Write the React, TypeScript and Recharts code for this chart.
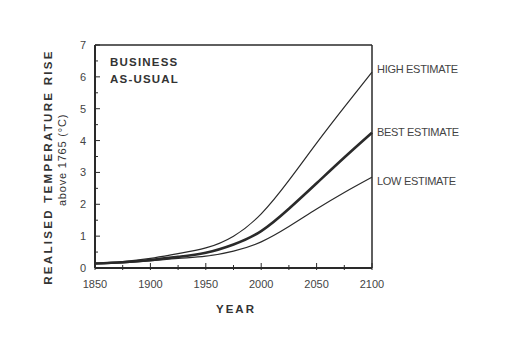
import React from 'react';
import { LineChart, Line, XAxis, YAxis, ReferenceLine } from 'recharts';

const years = [1850, 1875, 1900, 1925, 1950, 1975, 2000, 2025, 2050, 2075, 2100];
const highEstimate = [0.15, 0.2, 0.3, 0.45, 0.63, 1.0, 1.7, 2.75, 3.92, 5.05, 6.15];
const bestEstimate = [0.14, 0.18, 0.25, 0.35, 0.48, 0.74, 1.16, 1.86, 2.66, 3.47, 4.25];
const lowEstimate = [0.13, 0.16, 0.22, 0.3, 0.37, 0.53, 0.82, 1.3, 1.85, 2.37, 2.85];

const xTicks = [1850, 1875, 1900, 1925, 1950, 1975, 2000, 2025, 2050, 2075, 2100];
const yTicks = [0, 0.5, 1, 1.5, 2, 2.5, 3, 3.5, 4, 4.5, 5, 5.5, 6, 6.5, 7];
const seriesLabels = { high: 'HIGH ESTIMATE', best: 'BEST ESTIMATE', low: 'LOW ESTIMATE' };

const data = years.map((y, i) => ({ year: y, high: highEstimate[i], best: bestEstimate[i], low: lowEstimate[i] }));

const INK = '#2a2a2a';
const TXT = '#444';
const FONT = 'Arial, "Liberation Sans", Helvetica, sans-serif';

const LeftTick = (props: any) => {
  const { x, y, payload } = props;
  const v = payload.value;
  const major = Number.isInteger(v);
  const axisX = x + 6;
  return (
    <g>
      <line x1={axisX} x2={axisX + (major ? 5 : 3)} y1={y} y2={y} stroke={INK} strokeWidth={1} />
      {major && (
        <text x={x - 3} y={y} dy={4} textAnchor="end" fontSize={11} fill={TXT} fontFamily={FONT}>
          {v}
        </text>
      )}
    </g>
  );
};

const RightTick = (props: any) => {
  const { x, y, payload } = props;
  const v = payload.value;
  const major = Number.isInteger(v);
  const axisX = x - 6;
  return <line x1={axisX} x2={axisX - (major ? 5 : 3)} y1={y} y2={y} stroke={INK} strokeWidth={1} />;
};

const BottomTick = (props: any) => {
  const { x, y, payload } = props;
  const v = payload.value;
  const major = v % 50 === 0;
  const axisY = y - 6;
  return (
    <g>
      <line x1={x} x2={x} y1={axisY + 2} y2={axisY - (major ? 5 : 3)} stroke={INK} strokeWidth={1} />
      {major && (
        <text x={x} y={axisY + 20} textAnchor="middle" fontSize={11} fill={TXT} fontFamily={FONT}>
          {v}
        </text>
      )}
    </g>
  );
};

const endLabel = (key: 'high' | 'best' | 'low', dy: number) => (props: any) => {
  const { x, y, index } = props;
  if (index !== data.length - 1) return null;
  return (
    <text x={x + 5} y={y + dy} fontSize={11} fill={TXT} fontFamily={FONT} letterSpacing={-0.3}>
      {seriesLabels[key]}
    </text>
  );
};

export default function App() {
  return (
    <div style={{ position: 'absolute', left: 0, top: 0, width: 516, height: 351, background: '#fff' }}>
      <LineChart
        width={516}
        height={351}
        data={data}
        margin={{ top: 45, right: 114, left: 65, bottom: 53 }}
      >
        <XAxis
          dataKey="year"
          type="number"
          domain={[1850, 2100]}
          ticks={xTicks}
          tickSize={0}
          tickMargin={6}
          tickLine={false}
          tick={<BottomTick />}
          axisLine={{ stroke: INK, strokeWidth: 2 }}
          height={30}
          interval={0}
        />
        <YAxis
          yAxisId="l"
          orientation="left"
          domain={[0, 7]}
          ticks={yTicks}
          tickSize={0}
          tickMargin={6}
          tickLine={false}
          tick={<LeftTick />}
          axisLine={{ stroke: INK, strokeWidth: 2 }}
          width={30}
          interval={0}
        />
        <YAxis
          yAxisId="r"
          orientation="right"
          domain={[0, 7]}
          ticks={yTicks}
          tickSize={0}
          tickMargin={6}
          tickLine={false}
          tick={<RightTick />}
          axisLine={{ stroke: INK, strokeWidth: 1.5 }}
          width={30}
          interval={0}
        />
        <ReferenceLine yAxisId="l" y={7} stroke={INK} strokeWidth={1.5} />
        <Line
          yAxisId="l"
          type="natural"
          dataKey="high"
          stroke={INK}
          strokeWidth={1.2}
          dot={false}
          isAnimationActive={false}
          label={endLabel('high', 1)}
        />
        <Line
          yAxisId="l"
          type="natural"
          dataKey="best"
          stroke={INK}
          strokeWidth={2.6}
          dot={false}
          isAnimationActive={false}
          label={endLabel('best', 3)}
        />
        <Line
          yAxisId="l"
          type="natural"
          dataKey="low"
          stroke={INK}
          strokeWidth={1.2}
          dot={false}
          isAnimationActive={false}
          label={endLabel('low', 8)}
        />
      </LineChart>
      <svg
        width={516}
        height={351}
        style={{ position: 'absolute', left: 0, top: 0, pointerEvents: 'none' }}
      >
        <text x={110} y={66} fontSize={11.5} fontWeight="bold" fill="#333" fontFamily={FONT} letterSpacing={1.2}>
          BUSINESS
        </text>
        <text x={110} y={83} fontSize={11.5} fontWeight="bold" fill="#333" fontFamily={FONT} letterSpacing={1.2}>
          AS-USUAL
        </text>
        <text
          x={0}
          y={0}
          transform="translate(52,167) rotate(-90)"
          textAnchor="middle"
          fontSize={11.5}
          fontWeight="bold"
          fill="#333"
          fontFamily={FONT}
          letterSpacing={2.3}
        >
          REALISED  TEMPERATURE  RISE
        </text>
        <text
          x={0}
          y={0}
          transform="translate(66,160) rotate(-90)"
          textAnchor="middle"
          fontSize={11}
          fill="#333"
          fontFamily={FONT}
          letterSpacing={0.8}
        >
          above 1765 (°C)
        </text>
        <text x={236} y={313} textAnchor="middle" fontSize={11.5} fontWeight="bold" fill="#333" fontFamily={FONT} letterSpacing={2}>
          YEAR
        </text>
      </svg>
    </div>
  );
}
